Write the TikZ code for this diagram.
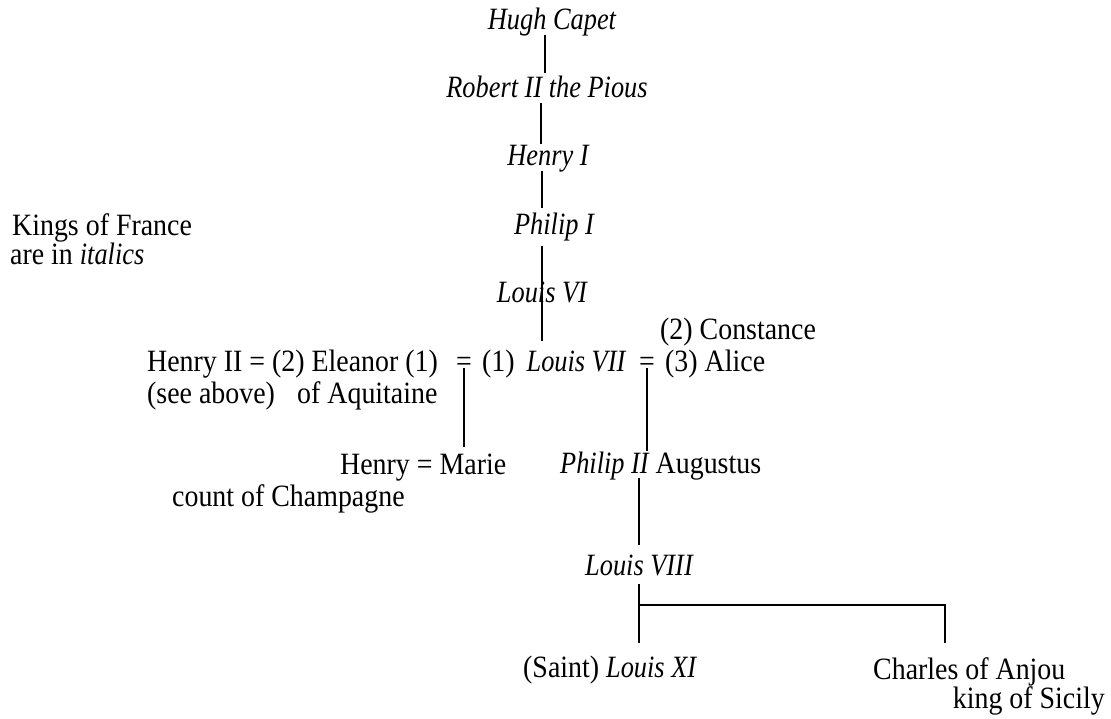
\documentclass[tikz,border=0pt]{standalone}
\usepackage{fontspec}
\setmainfont{Liberation Serif}[FakeStretch=0.9]
\newfontfamily\nameitfont{Liberation Serif}[FakeStretch=0.85]
\newcommand\kn[1]{{\nameitfont\itshape #1}}
\begin{document}
\begin{tikzpicture}[x=1pt,y=-1pt,
  lbl/.style={inner sep=0pt, anchor=base west, font=\fontsize{31}{32}\selectfont, text height=22pt, text depth=5pt},
  clbl/.style={lbl, anchor=base},
  conn/.style={line width=1.9pt}]
\useasboundingbox (0,0) rectangle (1111,719);
% kings line
\node[clbl] (hugh) at (552,30) {\kn{Hugh Capet}};
\node[clbl] (robert) at (547,98) {\kn{Robert II the Pious}};
\node[clbl] (henry1) at (548,166) {\kn{Henry I}};
\node[clbl] (philip1) at (554,235) {\kn{Philip I}};
\node[clbl] (louis6) at (542,303) {\kn{Louis VI}};
% legend
\node[lbl] (kings) at (12,236) {Kings of France};
\node[lbl] (arein) at (10,265) {are in \kn{italics}};
% marriage row
\node[lbl] (constance) at (660,339) {(2) Constance};
\node[lbl] (henry2) at (147,371) {Henry II = (2) Eleanor (1)};
\node[clbl] (eq1) at (464,371) {=};
\node[lbl] (one) at (482,371) {(1)};
\node[clbl] (louis7) at (576,371) {\kn{Louis VII}};
\node[clbl] (eq2) at (647,371) {=};
\node[lbl] (alice) at (665,371) {(3) Alice};
\node[lbl] (seeabove) at (147,403) {(see above)};
\node[lbl] (aquitaine) at (297,403) {of Aquitaine};
% children
\node[lbl] (henrymarie) at (340,474) {Henry = Marie};
\node[lbl] (champagne) at (172,506) {count of Champagne};
\node[lbl] (philip2) at (560,473) {\kn{Philip II} Augustus};
\node[clbl] (louis8) at (639,575) {\kn{Louis VIII}};
\node[lbl] (louis11) at (523,677) {(Saint) \kn{Louis XI}};
\node[lbl] (charles) at (873,679) {Charles of Anjou};
\node[lbl, anchor=base east] (sicily) at (1105,708) {king of Sicily};
% x positions of connectors
\coordinate (xa) at (545,0);
\coordinate (xb) at (541,0);
\coordinate (xc) at (542,0);
\coordinate (xd) at (639,0);
\coordinate (xe) at (945,0);
\coordinate (br) at (639,605);
% connectors
\draw[conn, shorten >=3pt] (hugh.south -| xa) -- (robert.north -| xa);
\draw[conn] (robert.south -| xb) -- (henry1.north -| xb);
\draw[conn, shorten >=5pt] (henry1.south -| xc) -- (philip1.north -| xc);
\draw[conn, shorten <=6pt, shorten >=8pt] (philip1.south -| xc) -- (louis7.north -| xc);
\draw[conn, shorten >=5pt] ([yshift=3pt]eq1.base) -- (henrymarie.north -| eq1.base);
\draw[conn] ([yshift=3pt]eq2.base) -- (philip2.north -| eq2.base);
\draw[conn, shorten >=8pt] (philip2.south -| xd) -- (louis8.north -| xd);
\draw[conn, shorten <=4pt, shorten >=12pt] (louis8.south -| xd) -- (louis11.north -| xd);
\draw[conn, shorten >=14pt] (br) -| (charles.north -| xe);
\end{tikzpicture}
\end{document}
